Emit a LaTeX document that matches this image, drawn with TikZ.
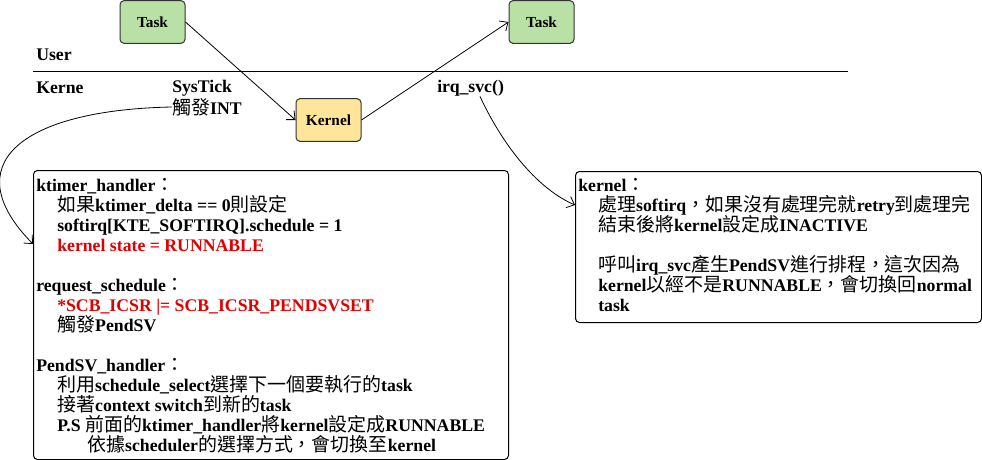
\documentclass[tikz,border=0pt]{standalone}
\usepackage{fontspec}
\setmainfont{Liberation Serif}
\newfontfamily\cjk{Noto Sans CJK TC}[Scale=1.07]
\usetikzlibrary{arrows.meta}

\newcommand{\zh}[1]{{\cjk\mdseries #1}}
\definecolor{taskgreen}{HTML}{B9E0A5}
\definecolor{kernyellow}{HTML}{FFE599}
\definecolor{notered}{HTML}{E00000}

\tikzset{
	px/.style={x=0.75pt, y=-0.75pt},
	procbox/.style={draw=black!80, rounded corners=3pt, line width=0.75pt,
		minimum width=48.75pt, minimum height=32pt, inner sep=0pt,
		font=\fontsize{11.5}{13}\selectfont\bfseries},
	notebox/.style={draw=black, rounded corners=3pt, line width=0.75pt,
		inner sep=0pt, anchor=north west},
	notetext/.style={anchor=north west, align=left, inner sep=0pt,
		font=\fontsize{13.3}{15}\selectfont\bfseries},
	lbl/.style={anchor=west, inner sep=0pt,
		font=\fontsize{13.3}{15}\selectfont\bfseries},
	flow/.style={-{Straight Barb[length=5pt, width=9pt]}, line width=0.6pt},
}

\begin{document}
\begin{tikzpicture}[px]
	\useasboundingbox (0,0) rectangle (982,460);

	% tasks and kernel
	\node[procbox, fill=taskgreen]  (taskA)  at (152.5,22) {Task};
	\node[procbox, fill=taskgreen]  (taskB)  at (541.5,22) {Task};
	\node[procbox, fill=kernyellow] (kernel) at (328.5,120) {Kernel};

	% user / kernel border
	\coordinate (borderL) at (33,72);
	\coordinate (borderR) at (848,72);
	\draw[line width=0.75pt] (borderL) -- (borderR);

	\node[lbl] (user)    at (36,55)  {User};
	\node[lbl] (kerne)   at (36,88)  {Kerne};
	\node[lbl] (systick) at (172,88) {SysTick};
	\node[lbl] (trigger) at (172,107) {\zh{觸發}INT};
	\node[lbl] (irqsvc)  at (437,88) {irq\_svc()};

	% note boxes
	\node[notebox, minimum width=356.25pt, minimum height=216.75pt]
		(ktimerbox) at (33,170) {};
	\node[notebox, minimum width=304.5pt, minimum height=113.25pt]
		(kernelbox) at (575,171) {};

	\node[notetext] (ktimertext) at (36,178) {ktimer\_handler\zh{：}\\
		\hspace*{15.75pt}\zh{如果}ktimer\_delta == 0\zh{則設定}\\
		\hspace*{15.75pt}softirq[KTE\_SOFTIRQ].schedule = 1\\
		\hspace*{15.75pt}{\color{notered}kernel state = RUNNABLE}\\[15pt]
		request\_schedule\zh{：}\\
		\hspace*{15.75pt}{\color{notered}*SCB\_ICSR |= SCB\_ICSR\_PENDSVSET}\\
		\hspace*{15.75pt}\zh{觸發}PendSV\\[15pt]
		PendSV\_handler\zh{：}\\
		\hspace*{15.75pt}\zh{利用}schedule\_select\zh{選擇下一個要執行的}task\\
		\hspace*{15.75pt}\zh{接著}context switch\zh{到新的}task\\
		\hspace*{15.75pt}P.S \zh{前面的}ktimer\_handler\zh{將}kernel\zh{設定成}RUNNABLE\\
		\hspace*{38.25pt}\zh{依據}scheduler\zh{的選擇方式，會切換至}kernel};

	\node[notetext] (kerneltext) at (578,178) {kernel\zh{：}\\
		\hspace*{15pt}\zh{處理}softirq\zh{，如果沒有處理完就}retry\zh{到處理完}\\
		\hspace*{15pt}\zh{結束後將}kernel\zh{設定成}INACTIVE\\[15pt]
		\hspace*{15pt}\zh{呼叫}irq\_svc\zh{產生}PendSV\zh{進行排程，這次因為}\\
		\hspace*{15pt}kernel\zh{以經不是}RUNNABLE\zh{，會切換回}normal\\
		\hspace*{15pt}task};

	% connectors
	\draw[flow] (taskA.east) -- (kernel.west);
	\draw[flow] (kernel.east) -- (taskB.west);
	\draw[flow] (trigger.west) .. controls (20,110) and (-45,165)
		.. ([yshift=-55.5pt]ktimerbox.north west);
	\draw[flow] ([xshift=7pt]irqsvc.south) .. controls (505,150) and (540,190)
		.. ([yshift=-25.5pt]kernelbox.north west);
\end{tikzpicture}
\end{document}
